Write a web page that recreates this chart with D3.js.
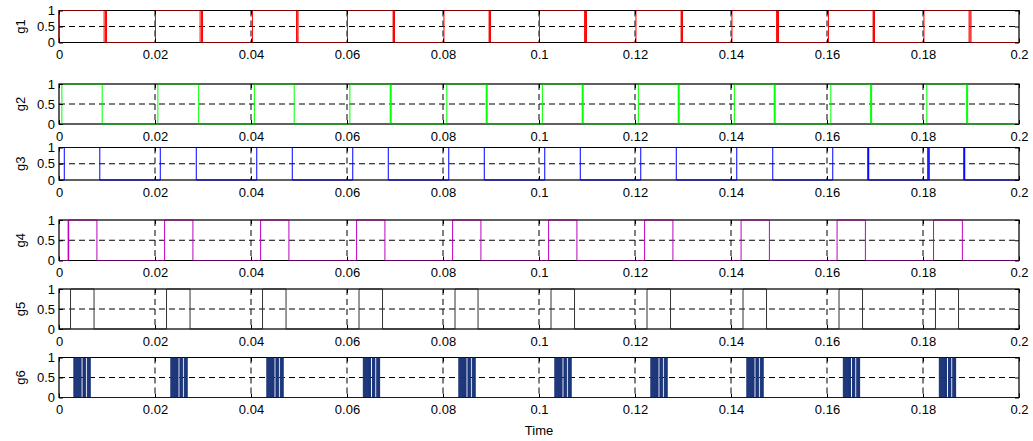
<!DOCTYPE html>
<html><head><meta charset="utf-8">
<script src="https://cdn.jsdelivr.net/npm/d3@7/dist/d3.min.js"></script>
<style>
body{margin:0;background:#fff}
svg{display:block}
text{font-family:"Liberation Sans",Arial,Helvetica,sans-serif;font-size:13px;fill:#000}
</style>
</head><body>
<svg id="c" width="1033" height="441"></svg>
<script>
// ---- data ----
const xTicks = [0, 0.02, 0.04, 0.06, 0.08, 0.1, 0.12, 0.14, 0.16, 0.18, 0.2];
const xTickLabels = ["0", "0.02", "0.04", "0.06", "0.08", "0.1", "0.12", "0.14", "0.16", "0.18", "0.2"];
const yTicks = [0, 0.5, 1];
const yTickLabels = ["0", "0.5", "1"];
const seriesNames = ["g1", "g2", "g3", "g4", "g5", "g6"];
const xLabel = "Time";

// high intervals [on, off] (s)
const g1 = [[0.0000,0.0094],[0.0097,0.0099],[0.0201,0.0294],[0.0297,0.0299],[0.0403,0.0495],[0.0496,0.0498],
            [0.0601,0.0696],[0.0697,0.0699],[0.0802,0.0896],[0.0897,0.0899],[0.1001,0.1095],[0.1097,0.1099],
            [0.1202,0.1296],[0.1297,0.1299],[0.1402,0.1495],[0.1497,0.1499],[0.1603,0.1696],[0.1697,0.1699],
            [0.1802,0.1896],[0.1898,0.1900]];
const g2 = [[0.0006,0.0090],[0.0206,0.0291],[0.0407,0.0490],[0.0606,0.0690],[0.0691,0.0692],
            [0.0808,0.0890],[0.0891,0.0892],[0.1007,0.1090],[0.1091,0.1092],[0.1207,0.1290],[0.1291,0.1292],
            [0.1407,0.1490],[0.1491,0.1492],[0.1608,0.1691],[0.1692,0.1693],[0.1808,0.1891],[0.1892,0.1893]];
const g3 = [[0.0011,0.0085],[0.0211,0.0286],[0.0412,0.0486],[0.0612,0.0686],[0.0812,0.0886],
            [0.1012,0.1086],[0.1212,0.1286],[0.1412,0.1487],[0.1612,0.1685],[0.1686,0.1687],
            [0.1810,0.1811],[0.1813,0.1885],[0.1886,0.1887]];
const g4 = [[0.0019,0.0020],[0.0020,0.0079],[0.0220,0.0279],[0.0420,0.0479],[0.0620,0.0679],[0.0820,0.0879],
            [0.1020,0.1079],[0.1220,0.1279],[0.1421,0.1480],[0.1621,0.1680],[0.1822,0.1882]];
const g5 = [[0.0024,0.0073],[0.0224,0.0273],[0.0424,0.0473],[0.0625,0.0674],[0.0825,0.0873],
            [0.1025,0.1074],[0.1225,0.1274],[0.1425,0.1474],[0.1625,0.1674],[0.1826,0.1874]];
// g6: burst start per cycle, and pulse pattern inside each burst (offsets, s)
const g6BurstStart = [0.0031, 0.0233, 0.0433, 0.0634, 0.0833, 0.1033, 0.1233, 0.1433, 0.1634, 0.1834];
const g6Pulses = [[0.0000,0.0001],[0.0002,0.0003],[0.0004,0.0005],[0.0006,0.0007],[0.0008,0.0009],
                  [0.0010,0.0011],[0.0012,0.0013],[0.0014,0.0015],
                  [0.0019,0.0020],[0.0021,0.0022],[0.0023,0.0024],
                  [0.0028,0.0029],[0.0030,0.0031],[0.0032,0.0033],[0.0033,0.0034]];

const seriesColors = ["#ff0000", "#00ff00", "#0000ff", "#c000c0", "#333333", "#1a3478"];

// ---- layout ----
const left = 59, right = 1019;
const panels = [
  {top: 10.5, bottom: 42.5},
  {top: 84, bottom: 124},
  {top: 147.5, bottom: 180},
  {top: 220, bottom: 260.5},
  {top: 289, bottom: 329},
  {top: 357.5, bottom: 397.5}
];

const g6 = [];
g6BurstStart.forEach(s => g6Pulses.forEach(p => g6.push([s + p[0], s + p[1]])));
const allSeries = [g1, g2, g3, g4, g5, g6];

const svg = d3.select("#c");
const x = d3.scaleLinear().domain([0, 0.2]).range([left, right]);

function stepPoints(iv) {
  const pts = [[0, 0]];
  iv.forEach(([a, b]) => { pts.push([a, 0], [a, 1], [b, 1], [b, 0]); });
  pts.push([0.2, 0]);
  return pts;
}

panels.forEach((p, i) => {
  const y = d3.scaleLinear().domain([0, 1]).range([p.bottom, p.top]);
  const g = svg.append("g");

  // grid
  g.selectAll("line.vg").data(xTicks.slice(1, -1)).join("line")
    .attr("x1", d => x(d)).attr("x2", d => x(d))
    .attr("y1", p.top).attr("y2", p.bottom)
    .attr("stroke", "#000").attr("stroke-width", 1).attr("stroke-dasharray", "6,4");
  g.append("line").attr("x1", left).attr("x2", right)
    .attr("y1", y(0.5)).attr("y2", y(0.5))
    .attr("stroke", "#000").attr("stroke-width", 1).attr("stroke-dasharray", "6,4");

  // box under
  g.append("rect").attr("x", left).attr("y", p.top).attr("width", right - left).attr("height", p.bottom - p.top)
    .attr("fill", "none").attr("stroke", "#000").attr("stroke-width", 1);

  // signal
  const line = d3.line().x(d => x(d[0])).y(d => y(d[1]));
  g.append("path").attr("d", line(stepPoints(allSeries[i])))
    .attr("fill", "none").attr("stroke", seriesColors[i]).attr("stroke-width", 1);

  // box over (half)
  g.append("rect").attr("x", left).attr("y", p.top).attr("width", right - left).attr("height", p.bottom - p.top)
    .attr("fill", "none").attr("stroke", "#000").attr("stroke-width", 1).attr("stroke-opacity", 0.5);

  // axes (inward ticks)
  const ax = d3.axisBottom(x).tickValues(xTicks).tickFormat((d, k) => xTickLabels[k]).tickSize(-4).tickPadding(7.5);
  const gb = g.append("g").attr("transform", `translate(0,${p.bottom})`).call(ax);
  const at = d3.axisTop(x).tickValues(xTicks).tickFormat("").tickSize(-4);
  const gt = g.append("g").attr("transform", `translate(0,${p.top})`).call(at);
  const al = d3.axisLeft(y).tickValues(yTicks).tickFormat((d, k) => yTickLabels[k]).tickSize(-4).tickPadding(4);
  const gl = g.append("g").attr("transform", `translate(${left},0)`).call(al);
  const ar = d3.axisRight(y).tickValues(yTicks).tickFormat("").tickSize(-4);
  const gr = g.append("g").attr("transform", `translate(${right},0)`).call(ar);
  [gb, gt, gl, gr].forEach(s => {
    s.select(".domain").remove();
    s.selectAll("line").attr("stroke", "#000");
    s.selectAll("text").attr("fill", "#000");
    s.attr("font-family", null).attr("font-size", null);
  });

  // y label
  svg.append("text").attr("transform", `translate(25,${(p.top + p.bottom) / 2}) rotate(-90)`)
    .attr("text-anchor", "middle").text(seriesNames[i]);
});

svg.append("text").attr("x", x(0.1)).attr("y", 435).attr("text-anchor", "middle").text(xLabel);
</script>
</body></html>
